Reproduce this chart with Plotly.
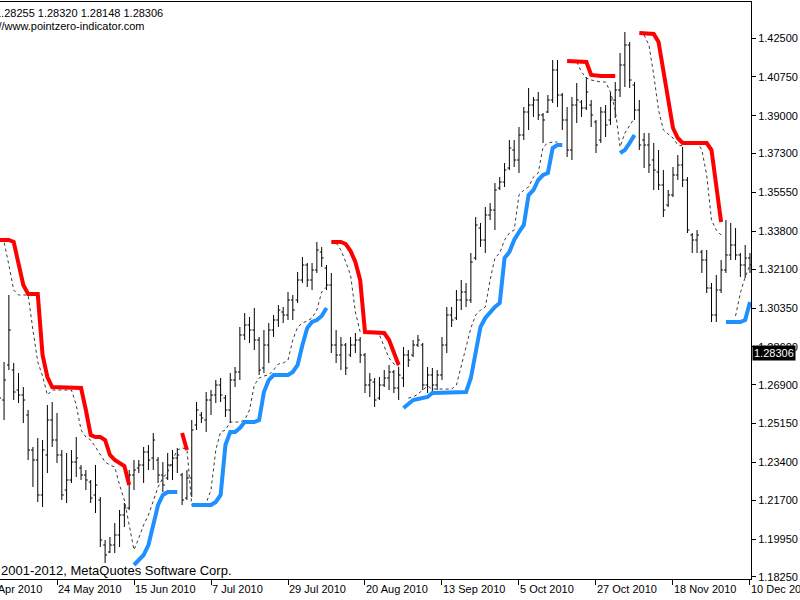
import pandas as pd
import plotly.graph_objects as go

# ---------------- data ----------------
all_days = pd.bdate_range("2010-04-30", "2010-12-10")       # trading-day grid of the chart
bar_dates = pd.bdate_range("2010-05-06", "2010-12-10")      # visible bars (157)

x_tick_labels = ["30 Apr 2010", "24 May 2010", "15 Jun 2010", "7 Jul 2010", "29 Jul 2010",
                 "20 Aug 2010", "13 Sep 2010", "5 Oct 2010", "27 Oct 2010", "18 Nov 2010",
                 "10 Dec 2010"]
y_tick_values = [1.42500, 1.40750, 1.39000, 1.37300, 1.35550, 1.33800, 1.32100, 1.30350,
                 1.28600, 1.26900, 1.25150, 1.23400, 1.21700, 1.19950, 1.18250]
last_price = 1.28306
header_quote = "1.28255 1.28320 1.28148 1.28306"

high = [1.28595, 1.27920, 1.30935, 1.27875, 1.27425, 1.26795, 1.25760, 1.24095, 1.24500, 1.24410,
        1.25985, 1.26120, 1.25625, 1.23960, 1.23825, 1.23960, 1.24545, 1.23285, 1.23060, 1.22610,
        1.23285, 1.21845, 1.19910, 1.20045, 1.20675, 1.21260, 1.21575, 1.23060, 1.23510, 1.23510,
        1.24095, 1.24185, 1.24725, 1.23645, 1.23420, 1.23825, 1.23960, 1.24050, 1.22925, 1.23060,
        1.25310, 1.26120, 1.25670, 1.26570, 1.26660, 1.27110, 1.27200, 1.26435, 1.27425, 1.27695,
        1.29495, 1.30125, 1.29945, 1.30350, 1.29045, 1.29360, 1.29675, 1.30035, 1.30485, 1.30395,
        1.31070, 1.30935, 1.31970, 1.32645, 1.32375, 1.32375, 1.33320, 1.33095, 1.32285, 1.31925,
        1.29360, 1.29045, 1.28775, 1.29045, 1.29225, 1.29045, 1.28325, 1.27425, 1.27200, 1.27245,
        1.27560, 1.27785, 1.27560, 1.27695, 1.28595, 1.28460, 1.28910, 1.29135, 1.28775, 1.27695,
        1.27650, 1.27560, 1.29045, 1.30395, 1.30395, 1.31160, 1.31610, 1.31475, 1.32825, 1.34445,
        1.34175, 1.34895, 1.35075, 1.35975, 1.36245, 1.36875, 1.37910, 1.37910, 1.38495, 1.39395,
        1.40250, 1.39845, 1.40070, 1.39125, 1.39935, 1.41510, 1.41510, 1.40025, 1.39395, 1.39845,
        1.40475, 1.39710, 1.40745, 1.39710, 1.38810, 1.39395, 1.39485, 1.40070, 1.40520, 1.41825,
        1.42770, 1.42320, 1.40520, 1.39710, 1.38225, 1.38225, 1.37775, 1.37460, 1.36560, 1.35660,
        1.36695, 1.37235, 1.37595, 1.36245, 1.33725, 1.33860, 1.32960, 1.32960, 1.31475, 1.31835,
        1.32510, 1.34310, 1.34175, 1.33950, 1.32825, 1.33185, 1.32825]
low = [1.25310, 1.25310, 1.27560, 1.26210, 1.26075, 1.25175, 1.23510, 1.22295, 1.21620, 1.21395,
       1.22925, 1.24095, 1.23375, 1.21710, 1.21575, 1.22475, 1.22745, 1.22610, 1.22160, 1.21575,
       1.21125, 1.19595, 1.18875, 1.19325, 1.19325, 1.19595, 1.20495, 1.21260, 1.22160, 1.22925,
       1.22475, 1.23060, 1.23060, 1.22475, 1.22070, 1.22610, 1.22610, 1.22925, 1.21485, 1.21710,
       1.21845, 1.24860, 1.25175, 1.24770, 1.25535, 1.26075, 1.26120, 1.25445, 1.25175, 1.26795,
       1.27110, 1.28910, 1.28775, 1.28460, 1.27335, 1.27425, 1.27875, 1.29045, 1.29495, 1.29675,
       1.29810, 1.29810, 1.30575, 1.31475, 1.31295, 1.31160, 1.31925, 1.32195, 1.31160, 1.28325,
       1.27875, 1.27560, 1.27335, 1.28145, 1.28325, 1.27875, 1.26525, 1.26345, 1.25895, 1.26210,
       1.26795, 1.26660, 1.26525, 1.26210, 1.26795, 1.27695, 1.28145, 1.28595, 1.26660, 1.26525,
       1.26525, 1.26660, 1.27110, 1.28325, 1.29495, 1.29810, 1.30260, 1.30395, 1.30575, 1.32510,
       1.33095, 1.32825, 1.34310, 1.33860, 1.35660, 1.35795, 1.36560, 1.36695, 1.36425, 1.37910,
       1.38360, 1.38945, 1.38810, 1.37775, 1.39125, 1.39575, 1.39395, 1.38360, 1.37145, 1.37010,
       1.38675, 1.38945, 1.39260, 1.38495, 1.37325, 1.37775, 1.38045, 1.38585, 1.38900, 1.39845,
       1.40295, 1.40250, 1.38810, 1.37460, 1.36650, 1.36425, 1.35660, 1.35660, 1.34445, 1.34895,
       1.35345, 1.36110, 1.35795, 1.33725, 1.32825, 1.32825, 1.31925, 1.31025, 1.29720, 1.29720,
       1.31025, 1.31925, 1.32510, 1.32510, 1.31745, 1.31700, 1.31925]
open_ = [1.28010, 1.26210, 1.27785, 1.27560, 1.26660, 1.26435, 1.25535, 1.23960, 1.23510, 1.21935,
         1.23735, 1.25310, 1.24410, 1.23735, 1.22160, 1.22610, 1.23420, 1.23150, 1.22835, 1.22520,
         1.21935, 1.21710, 1.19685, 1.19370, 1.19685, 1.20135, 1.21035, 1.21350, 1.22835, 1.23150,
         1.23285, 1.23870, 1.23600, 1.23510, 1.22835, 1.22700, 1.23285, 1.23600, 1.22835, 1.21800,
         1.22700, 1.25085, 1.25535, 1.25310, 1.26210, 1.26435, 1.26885, 1.26300, 1.25760, 1.27110,
         1.27470, 1.29135, 1.29585, 1.29360, 1.28910, 1.27650, 1.28685, 1.29360, 1.29810, 1.30170,
         1.30035, 1.30710, 1.30710, 1.31610, 1.32285, 1.31610, 1.32060, 1.32870, 1.32150, 1.31385,
         1.28685, 1.28235, 1.28685, 1.28235, 1.28685, 1.28910, 1.28235, 1.26885, 1.27020, 1.26300,
         1.26885, 1.27200, 1.27470, 1.26750, 1.27200, 1.28235, 1.28235, 1.28685, 1.28685, 1.26885,
         1.27335, 1.26885, 1.27335, 1.28685, 1.30035, 1.29900, 1.30710, 1.31070, 1.30710, 1.32600,
         1.33950, 1.33410, 1.34535, 1.34760, 1.35750, 1.36020, 1.36650, 1.37460, 1.37010, 1.38135,
         1.39170, 1.39485, 1.39710, 1.39035, 1.39170, 1.39710, 1.41060, 1.39935, 1.38810, 1.37460,
         1.39485, 1.39620, 1.39350, 1.39485, 1.38720, 1.37910, 1.39170, 1.38810, 1.39710, 1.40160,
         1.41285, 1.42185, 1.40385, 1.39260, 1.37910, 1.37685, 1.37010, 1.36470, 1.35885, 1.34985,
         1.35435, 1.36335, 1.36785, 1.36110, 1.33635, 1.33410, 1.32870, 1.32510, 1.31250, 1.30035,
         1.31160, 1.32060, 1.32735, 1.33185, 1.32735, 1.32285, 1.32600]
close = [1.26300, 1.27110, 1.29360, 1.26570, 1.26435, 1.26210, 1.23960, 1.23510, 1.21935, 1.23960,
         1.25310, 1.24410, 1.23735, 1.21935, 1.22610, 1.23420, 1.23600, 1.22835, 1.22610, 1.21800,
         1.22385, 1.19910, 1.19235, 1.19685, 1.20135, 1.21035, 1.21350, 1.22835, 1.23060, 1.23285,
         1.23870, 1.23510, 1.24410, 1.22835, 1.22385, 1.23285, 1.23600, 1.23735, 1.21710, 1.22700,
         1.24860, 1.25760, 1.25400, 1.26210, 1.26435, 1.26885, 1.26435, 1.25760, 1.27110, 1.27470,
         1.29135, 1.29585, 1.29360, 1.28910, 1.27560, 1.28685, 1.29360, 1.29810, 1.30260, 1.30035,
         1.30710, 1.30260, 1.31610, 1.32285, 1.31610, 1.32060, 1.32960, 1.32600, 1.31385, 1.28685,
         1.28235, 1.28685, 1.27650, 1.28685, 1.28910, 1.28235, 1.26885, 1.27110, 1.26210, 1.26885,
         1.27200, 1.27470, 1.26750, 1.27335, 1.28235, 1.28010, 1.28685, 1.28910, 1.26885, 1.27335,
         1.26885, 1.27335, 1.28685, 1.30035, 1.29810, 1.30710, 1.31070, 1.30710, 1.32420, 1.34085,
         1.33410, 1.34535, 1.34760, 1.35660, 1.36020, 1.36560, 1.37550, 1.37010, 1.38135, 1.39170,
         1.39485, 1.39710, 1.39035, 1.38810, 1.39710, 1.41060, 1.39935, 1.38810, 1.37460, 1.39485,
         1.39710, 1.39350, 1.40070, 1.39035, 1.37685, 1.39170, 1.38585, 1.39710, 1.40160, 1.41285,
         1.42185, 1.40610, 1.39260, 1.37685, 1.37685, 1.36785, 1.36560, 1.35885, 1.34760, 1.35435,
         1.36335, 1.36785, 1.36110, 1.33860, 1.33410, 1.33635, 1.32510, 1.31250, 1.30035, 1.31160,
         1.32060, 1.32735, 1.33185, 1.32735, 1.32285, 1.32600, 1.32285]

N = None
resistance = ([1.33410, 1.33410, 1.33410, 1.33320, 1.32420, 1.31385, 1.30980, 1.30980, 1.30980,
               1.28235, 1.27245, 1.26795, 1.26795, 1.26795, 1.26795, 1.26795, 1.26795, 1.26750,
               1.25760, 1.24635, 1.24545, 1.24545, 1.24410, 1.23735, 1.23510, 1.23375, 1.23240,
               1.22385]
              + [N] * 10 + [1.24725, 1.23960] + [N] * 29
              + [1.33320, 1.33320, 1.33320, 1.33230, 1.32915, 1.32420, 1.31610, 1.29270, 1.29270,
                 1.29270, 1.29270, 1.29225, 1.28910, 1.28370, 1.27785]
              + [N] * 34
              + [1.41465, 1.41465, 1.41465, 1.41465, 1.41420, 1.40835, 1.40790, 1.40790, 1.40790,
                 1.40790, 1.40790]
              + [N] * 4
              + [1.42725, 1.42725, 1.42725, 1.42680, 1.42320, 1.41060, 1.39710, 1.38450, 1.38000,
                 1.37775, 1.37775, 1.37775, 1.37775, 1.37775, 1.37775, 1.37460, 1.35885, 1.34220]
              + [N] * 6)
support = ([N] * 28
           + [1.18785, 1.19010, 1.19235, 1.19685, 1.20585, 1.21485, 1.21935, 1.22070, 1.22070, 1.22070]
           + [N] * 2
           + [1.21485, 1.21485, 1.21485, 1.21485, 1.21485, 1.21620, 1.21935, 1.24185, 1.24770, 1.24770,
              1.24950, 1.25220, 1.25220, 1.25220, 1.25310, 1.26570, 1.27110, 1.27335, 1.27335, 1.27335,
              1.27335, 1.27470, 1.27785, 1.28685, 1.29450, 1.29720, 1.29810, 1.29990, 1.30350]
           + [N] * 15
           + [1.25850, 1.26030, 1.26210, 1.26255, 1.26300, 1.26345, 1.26525, 1.26525, 1.26525, 1.26525,
              1.26525, 1.26525, 1.26525, 1.26570, 1.27200, 1.28460, 1.29495, 1.29900, 1.30170, 1.30395,
              1.30575, 1.32600, 1.32870, 1.33410, 1.33770, 1.34085, 1.35435, 1.35660, 1.36110, 1.36335,
              1.36425, 1.37550, 1.37685, 1.37685]
           + [N] * 11
           + [1.37325, 1.37460, 1.37775, 1.38135]
           + [N] * 18
           + [1.29720, 1.29720, 1.29720, 1.29720, 1.29810, 1.30620])
trail = [1.33410, 1.33320, 1.32285, 1.31160, 1.30935, 1.30935, 1.30935, 1.29360, 1.27920, 1.27290,
         1.26435, 1.26660, 1.26660, 1.26660, 1.26660, 1.26660, 1.25985, 1.24860, 1.24545, 1.24410,
         1.24095, 1.23735, 1.23420, 1.23285, 1.23195, 1.22385, 1.21710, 1.20585, 1.19460, 1.20000,
         1.20585, 1.21035, 1.21710, 1.22295, 1.22700, 1.22970, 1.23510, 1.23960, 1.24050, 1.24005,
         1.21485, 1.21485, 1.21485, 1.21575, 1.22160, 1.23960, 1.24770, 1.24860, 1.25220, 1.25220,
         1.25220, 1.25310, 1.25760, 1.26885, 1.27200, 1.27290, 1.27335, 1.27560, 1.27830, 1.27875,
         1.28010, 1.28910, 1.29495, 1.29675, 1.29765, 1.29900, 1.30260, 1.31070, 1.31295, N,
         1.33275, 1.32960, 1.32420, 1.31835, 1.30170, 1.29270, 1.29270, 1.29270, 1.29270, 1.29135,
         1.28595, 1.28100, 1.27830, 1.27740, N, 1.26300, 1.26345, 1.26480, 1.26660, 1.26840,
         1.26705, 1.26705, 1.26705, 1.26705, 1.26705, 1.26885, 1.27785, 1.28685, 1.29450, 1.30035,
         1.30260, 1.30395, 1.31610, 1.32600, 1.32825, 1.33410, 1.33725, 1.33860, 1.35435, 1.35660,
         1.35795, 1.36245, 1.36425, 1.37595, 1.37775, 1.37820, 1.37820, N, N, N,
         1.41420, 1.40970, 1.40700, 1.40610, 1.40565, 1.40520, 1.40520, 1.40070, 1.39260, 1.37595,
         1.38225, 1.38585, 1.38900, N, 1.42635, 1.42185, 1.40835, 1.39260, 1.38360, 1.38180,
         1.38000, 1.37685, 1.37640, 1.37775, 1.37820, 1.37820, 1.37460, 1.36335, 1.34310, 1.33860,
         1.33635, N, N, 1.29990, 1.31025, 1.31745, 1.32285]

# ---------------- figure ----------------
pos = {d: k for k, d in enumerate(all_days)}
x = [pos[d] for d in bar_dates]
tick_pos = [pos[pd.Timestamp(t)] for t in x_tick_labels]

FONT = "Liberation Sans"
x_range = [4.156, 160.21]
y_range = [1.18155, 1.4412]

fig = go.Figure()
fig.add_trace(go.Ohlc(
    x=x, open=open_, high=high, low=low, close=close,
    increasing=dict(line=dict(color="black", width=1)),
    decreasing=dict(line=dict(color="black", width=1)),
    tickwidth=0.4, hoverinfo="skip"))
fig.add_trace(go.Scatter(x=x, y=trail, mode="lines", connectgaps=False,
                         line=dict(color="#3a3a3a", width=1, dash="3px,3px"), hoverinfo="skip"))
fig.add_trace(go.Scatter(x=x, y=resistance, mode="lines", connectgaps=False,
                         line=dict(color="#FF0000", width=4), hoverinfo="skip"))
fig.add_trace(go.Scatter(x=x, y=support, mode="lines", connectgaps=False,
                         line=dict(color="#1E90FF", width=4), hoverinfo="skip"))

fig.update_layout(
    width=800, height=600, margin=dict(l=0, r=49, t=2, b=21),
    paper_bgcolor="white", plot_bgcolor="white", showlegend=False,
    font=dict(family=FONT, size=11, color="black"),
    xaxis=dict(range=x_range, showgrid=False, zeroline=False, showline=True, linecolor="black",
               linewidth=1, mirror=True, ticks="outside", ticklen=5, tickcolor="black",
               tickvals=tick_pos, ticktext=x_tick_labels, ticklabelposition="outside right",
               ticklabeloverflow="allow",
               tickfont=dict(family=FONT, size=11, color="black"), automargin=False,
               rangeslider=dict(visible=False)),
    yaxis=dict(range=y_range, side="right", showgrid=False, zeroline=False, showline=True,
               linecolor="black", linewidth=1, ticks="outside", ticklen=4, tickcolor="black",
               tickvals=y_tick_values, ticktext=[f"{v:.5f}" for v in y_tick_values],
               tickfont=dict(family=FONT, size=11, color="black"), automargin=False),
)

first_frac = (tick_pos[0] - x_range[0]) / (x_range[1] - x_range[0])
annotations = [
    dict(text=header_quote, xref="paper", yref="paper", x=0, y=1, xanchor="left", yanchor="top",
         xshift=-7, yshift=-3, showarrow=False, font=dict(family=FONT, size=11, color="black")),
    dict(text="http://www.pointzero-indicator.com", xref="paper", yref="paper", x=0, y=1,
         xanchor="left", yanchor="top", xshift=-25, yshift=-16, showarrow=False,
         font=dict(family=FONT, size=11, color="black")),
    dict(text="2001-2012, MetaQuotes Software Corp.", xref="paper", yref="paper", x=0, y=0,
         xanchor="left", yanchor="bottom", xshift=-1, yshift=-1, showarrow=False,
         font=dict(family=FONT, size=13, color="black")),
    dict(text=x_tick_labels[0], xref="paper", yref="paper", x=first_frac, y=0,
         xanchor="left", yanchor="top", xshift=1, yshift=-2, showarrow=False,
         font=dict(family=FONT, size=11, color="black")),
    dict(text=f"{last_price:.5f}", xref="paper", yref="y", x=1, y=last_price,
         xanchor="left", yanchor="middle", xshift=1, showarrow=False, bgcolor="black",
         borderpad=1, font=dict(family=FONT, size=11, color="white")),
]
fig.update_layout(annotations=annotations)

fig.write_html("out.html")
